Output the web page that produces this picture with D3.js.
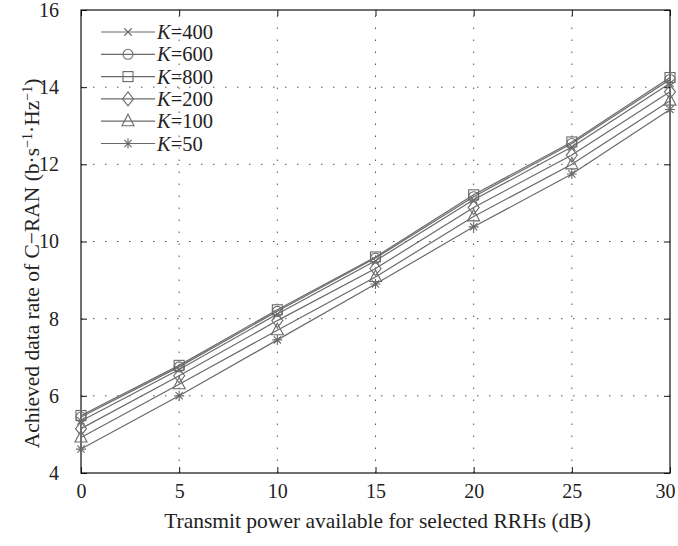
<!DOCTYPE html>
<html>
<head>
<meta charset="utf-8">
<script src="https://cdn.jsdelivr.net/npm/d3@7"></script>
<style>
  body { margin: 0; background: #fff; }
  svg, svg text, svg tspan { font-family: "Liberation Serif", "Times New Roman", Times, serif !important; }
  svg text { fill: #222; }
</style>
</head>
<body>
<div id="chart"></div>
<script>
// x values (dB)
const powerDb = [0, 5, 10, 15, 20, 25, 30];

// series names in legend order
const seriesNames = ["400", "600", "800", "200", "100", "50"];
const markerTypes = ["x", "circle", "square", "diamond", "triangle", "star"];

// achieved data rate per series
const rateK400 = [5.35, 6.68, 8.12, 9.50, 11.08, 12.45, 14.10];
const rateK600 = [5.45, 6.75, 8.19, 9.57, 11.16, 12.54, 14.20];
const rateK800 = [5.49, 6.79, 8.23, 9.60, 11.21, 12.58, 14.25];
const rateK200 = [5.15, 6.52, 7.95, 9.30, 10.88, 12.24, 13.88];
const rateK100 = [4.92, 6.30, 7.70, 9.08, 10.65, 12.00, 13.65];
const rateK50  = [4.62, 6.00, 7.45, 8.90, 10.38, 11.75, 13.42];

const seriesValues = [rateK400, rateK600, rateK800, rateK200, rateK100, rateK50];

const xTicks = [0, 5, 10, 15, 20, 25, 30];
const yTicks = [4, 6, 8, 10, 12, 14, 16];

const width = 678, height = 546;
const margin = { top: 10, right: 8, bottom: 73, left: 81 };
const gray = "#6a6a6a";
const serif = "'Liberation Serif', 'Times New Roman', serif";

const svg = d3.select("#chart").append("svg")
  .attr("width", width)
  .attr("height", height)
  .attr("font-family", serif);

const x = d3.scaleLinear().domain([0, 30]).range([margin.left, width - margin.right]);
const y = d3.scaleLinear().domain([4, 16]).range([height - margin.bottom, margin.top]);

// dotted grid
const grid = svg.append("g").attr("class", "grid");
grid.selectAll(".gx")
  .data(xTicks.slice(1, -1)).enter()
  .append("line")
    .attr("x1", d => x(d)).attr("x2", d => x(d))
    .attr("y1", y(4)).attr("y2", y(16))
    .attr("stroke", "#555").attr("stroke-width", 1)
    .attr("stroke-dasharray", "1.5,10.5");
grid.selectAll(".gy")
  .data(yTicks.slice(1, -1)).enter()
  .append("line")
    .attr("x1", x(0)).attr("x2", x(30))
    .attr("y1", d => y(d)).attr("y2", d => y(d))
    .attr("stroke", "#555").attr("stroke-width", 1)
    .attr("stroke-dasharray", "1.5,10.5");

// axes with inward ticks
const xAxis = d3.axisBottom(x).tickValues(xTicks).tickSize(-6).tickPadding(11);
const yAxis = d3.axisLeft(y).tickValues(yTicks).tickSize(-6).tickPadding(22);

const gx = svg.append("g").attr("transform", `translate(0,${y(4)})`).call(xAxis);
const gy = svg.append("g").attr("transform", `translate(${x(0)},0)`).call(yAxis);
[gx, gy].forEach(g => {
  g.attr("font-family", serif).attr("font-size", 20);
  g.select(".domain").remove();
  g.selectAll("line").attr("stroke", "#111");
  g.selectAll("text").attr("fill", "#222");
});
// keep the last x tick label inside the page
gx.selectAll(".tick").filter(d => d === 30).select("text").attr("dx", -5);

// mirrored ticks on top and right
svg.append("g").attr("transform", `translate(0,${y(16)})`)
  .call(d3.axisTop(x).tickValues(xTicks).tickSize(-6).tickFormat(""))
  .call(g => g.select(".domain").remove())
  .selectAll("line").attr("stroke", "#111");
svg.append("g").attr("transform", `translate(${x(30)},0)`)
  .call(d3.axisRight(y).tickValues(yTicks).tickSize(-6).tickFormat(""))
  .call(g => g.select(".domain").remove())
  .selectAll("line").attr("stroke", "#111");

// frame
svg.append("rect")
  .attr("x", x(0)).attr("y", y(16))
  .attr("width", x(30) - x(0)).attr("height", y(4) - y(16))
  .attr("fill", "none").attr("stroke", "#111").attr("stroke-width", 1.2);

// marker drawing
function drawMarker(g, type, cx, cy) {
  const s = 5;
  const m = g.append("g").attr("transform", `translate(${cx},${cy})`)
    .attr("fill", "none").attr("stroke", gray).attr("stroke-width", 1.1);
  if (type === "x") {
    m.append("path").attr("d", `M${-s * 0.75},${-s * 0.75}L${s * 0.75},${s * 0.75}M${-s * 0.75},${s * 0.75}L${s * 0.75},${-s * 0.75}`);
  } else if (type === "circle") {
    m.append("circle").attr("r", s);
  } else if (type === "square") {
    m.append("rect").attr("x", -s).attr("y", -s).attr("width", 2 * s).attr("height", 2 * s);
  } else if (type === "diamond") {
    m.append("path").attr("d", `M0,${-s * 1.4}L${s * 1.1},0L0,${s * 1.4}L${-s * 1.1},0Z`);
  } else if (type === "triangle") {
    m.append("path").attr("d", `M0,${-s * 1.4}L${s * 1.2},${s * 0.9}L${-s * 1.2},${s * 0.9}Z`);
  } else if (type === "star") {
    m.append("path").attr("d", `M0,${-s}L0,${s}M${-s},0L${s},0M${-s * 0.72},${-s * 0.72}L${s * 0.72},${s * 0.72}M${-s * 0.72},${s * 0.72}L${s * 0.72},${-s * 0.72}`);
  }
}

// series lines
const line = d3.line().x((d, i) => x(powerDb[i])).y(d => y(d));
const plot = svg.append("g").attr("class", "series");
seriesValues.forEach(vals => {
  plot.append("path")
    .datum(vals)
    .attr("d", line)
    .attr("fill", "none")
    .attr("stroke", gray)
    .attr("stroke-width", 1.2);
});
seriesValues.forEach((vals, k) => {
  vals.forEach((v, i) => drawMarker(plot, markerTypes[k], x(powerDb[i]), y(v)));
});

// legend
const legend = svg.append("g").attr("class", "legend");
seriesNames.forEach((name, k) => {
  const ly = 32 + k * 22.3;
  legend.append("line")
    .attr("x1", 101).attr("x2", 155)
    .attr("y1", ly).attr("y2", ly)
    .attr("stroke", gray).attr("stroke-width", 1.2);
  drawMarker(legend, markerTypes[k], 128, ly);
  const t = legend.append("text")
    .attr("x", 157).attr("y", ly + 7)
    .attr("font-size", 20.5);
  t.append("tspan").attr("font-style", "italic").text("K");
  t.append("tspan").text("=" + name);
});

// axis labels
svg.append("text")
  .attr("x", (x(0) + x(30)) / 2 + 2).attr("y", 528)
  .attr("text-anchor", "middle")
  .attr("font-size", 21.5)
  .text("Transmit power available for selected RRHs (dB)");

const yl = svg.append("text")
  .attr("transform", `translate(39,${(y(4) + y(16)) / 2 + 22}) rotate(-90)`)
  .attr("text-anchor", "middle")
  .attr("font-size", 21.5);
yl.append("tspan").text("Achieved data rate of C\u2212RAN (b\u00B7s");
yl.append("tspan").attr("baseline-shift", "super").attr("font-size", 14).text("\u22121");
yl.append("tspan").text("\u00B7Hz");
yl.append("tspan").attr("baseline-shift", "super").attr("font-size", 14).text("\u22121");
yl.append("tspan").text(")");
</script>
</body>
</html>
